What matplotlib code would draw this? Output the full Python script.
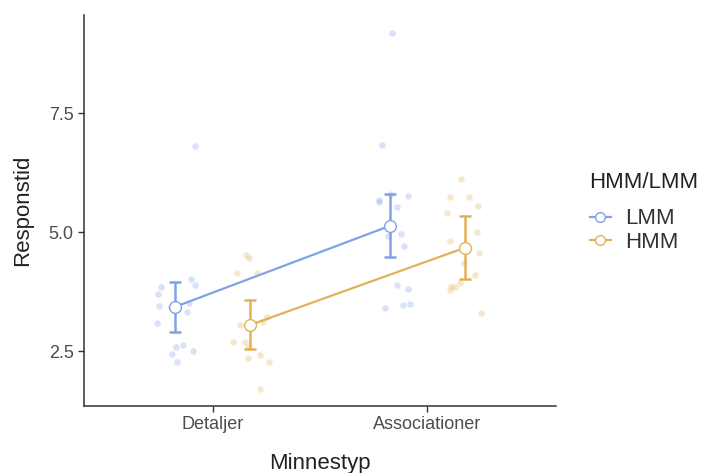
import numpy as np
import matplotlib.pyplot as plt
from matplotlib.lines import Line2D

plt.rcParams['font.family'] = ['Liberation Sans', 'DejaVu Sans']

categories = ['Detaljer', 'Associationer']
groups = ['LMM', 'HMM']
colors = {'LMM': '#7fa3e6', 'HMM': '#e1b258'}

# medelvärden och felstaplar (nedre, övre)
means = {'LMM': [3.43, 5.13], 'HMM': [3.05, 4.67]}
err_low = {'LMM': [2.91, 4.47], 'HMM': [2.54, 4.01]}
err_high = {'LMM': [3.96, 5.80], 'HMM': [3.58, 5.34]}
dodge = {'LMM': -0.175, 'HMM': 0.175}

# enskilda observationer (jittrade x-positioner)
lmm_x = [0.917, 0.900, 0.917, 0.758, 0.743, 0.748, 0.889, 0.804, 0.880, 0.741,
         0.827, 0.860, 0.908, 0.810, 0.835,
         1.836, 1.790, 1.911, 1.832, 1.774, 1.777, 1.860, 1.875, 1.816, 1.891,
         1.857, 1.908, 1.886, 1.917, 1.804]
lmm_y = [6.81, 4.01, 3.89, 3.85, 3.70, 3.45, 3.52, 3.43, 3.33, 3.09,
         2.59, 2.63, 2.50, 2.44, 2.28,
         9.19, 6.83, 5.76, 5.81, 5.67, 5.64, 5.53, 4.96, 4.92, 4.71,
         3.89, 3.80, 3.47, 3.49, 3.40]
hmm_x = [1.156, 1.171, 1.114, 1.206, 1.255, 1.232, 1.129, 1.095, 1.151, 1.162,
         1.165, 1.221, 1.263, 1.220,
         2.157, 2.107, 2.193, 2.236, 2.092, 2.230, 2.106, 2.241, 2.173, 2.220,
         2.154, 2.131, 2.110, 2.106, 2.252]
hmm_y = [4.52, 4.46, 4.14, 4.13, 3.21, 3.12, 3.05, 2.70, 2.68, 2.58,
         2.36, 2.41, 2.26, 1.70,
         6.12, 5.73, 5.73, 5.55, 5.41, 5.01, 4.82, 4.57, 4.36, 4.10,
         3.92, 3.85, 3.87, 3.78, 3.29]
raw = {'LMM': (lmm_x, lmm_y), 'HMM': (hmm_x, hmm_y)}

fig = plt.figure(figsize=(7.03, 4.73), dpi=100)
ax = fig.add_axes([0.1195, 0.1416, 0.6715, 0.8266])

xc = np.arange(1, len(categories) + 1)

for g in groups:
    c = colors[g]
    ax.scatter(raw[g][0], raw[g][1], s=22, color=c, alpha=0.3, linewidths=0, zorder=1)

for g in ['HMM', 'LMM']:
    c = colors[g]
    xs = xc + dodge[g]
    m = np.array(means[g])
    lo = m - np.array(err_low[g])
    hi = np.array(err_high[g]) - m
    ax.errorbar(xs, m, yerr=[lo, hi], fmt='none', ecolor=c, elinewidth=1.8,
                capsize=4, capthick=1.8, zorder=2)
    ax.plot(xs, m, color=c, lw=1.6, zorder=3)
    ax.plot(xs, m, 'o', ms=8.5, mfc='white', mec=c, mew=1.0, zorder=4)

ax.set_xlim(0.4, 2.6)
ax.set_ylim(1.345, 9.56)
ax.set_xticks(xc)
ax.set_xticklabels(categories)
ax.set_yticks([2.5, 5.0, 7.5])
ax.set_yticklabels(['2.5', '5.0', '7.5'])
ax.tick_params(axis='both', colors='#333333', labelcolor='#4d4d4d',
               labelsize=13, length=4, width=1)
ax.set_xlabel('Minnestyp', fontsize=16, color='#222222', labelpad=14)
ax.set_ylabel('Responstid', fontsize=16, color='#222222', labelpad=11)
for s in ['top', 'right']:
    ax.spines[s].set_visible(False)
for s in ['left', 'bottom']:
    ax.spines[s].set_color('#333333')
    ax.spines[s].set_linewidth(1.1)

handles = [Line2D([], [], color=colors[g], lw=1.6, marker='o', ms=7,
                  mfc='white', mec=colors[g]) for g in groups]
leg = fig.legend(handles, groups, title='HMM/LMM', loc='upper left',
                 bbox_to_anchor=(0.826, 0.655), frameon=False, fontsize=16,
                 title_fontsize=16, handlelength=0.95, handletextpad=0.63,
                 labelspacing=0.12, borderaxespad=0)
leg._legend_box.align = 'left'
leg._legend_box.sep = 11
for t in leg.get_texts():
    t.set_color('#333333')
leg.get_title().set_color('#222222')

fig.savefig('out.png', dpi=100)
